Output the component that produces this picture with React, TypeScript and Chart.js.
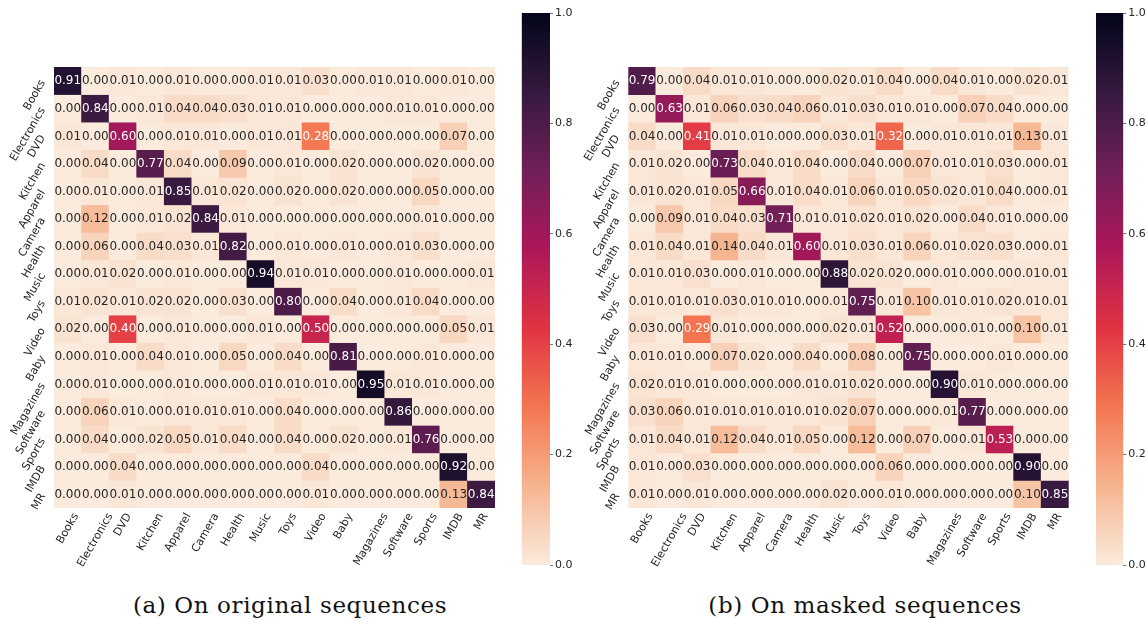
import React, { useEffect, useRef } from "react";
import { Chart, registerables } from "chart.js";

Chart.register(...registerables);

const categories = [
  "Books", "Electronics", "DVD", "Kitchen", "Apparel", "Camera", "Health", "Music",
  "Toys", "Video", "Baby", "Magazines", "Software", "Sports", "IMDB", "MR",
];

const originalValues: number[][] = [
  [0.91, 0.00, 0.01, 0.00, 0.01, 0.00, 0.00, 0.01, 0.01, 0.03, 0.00, 0.01, 0.01, 0.00, 0.01, 0.00],
  [0.00, 0.84, 0.00, 0.01, 0.04, 0.04, 0.03, 0.01, 0.01, 0.00, 0.00, 0.00, 0.01, 0.01, 0.00, 0.00],
  [0.01, 0.00, 0.60, 0.00, 0.01, 0.01, 0.00, 0.01, 0.01, 0.28, 0.00, 0.00, 0.00, 0.00, 0.07, 0.00],
  [0.00, 0.04, 0.00, 0.77, 0.04, 0.00, 0.09, 0.00, 0.01, 0.00, 0.02, 0.00, 0.00, 0.02, 0.00, 0.00],
  [0.00, 0.01, 0.00, 0.01, 0.85, 0.01, 0.02, 0.00, 0.02, 0.00, 0.02, 0.00, 0.00, 0.05, 0.00, 0.00],
  [0.00, 0.12, 0.00, 0.01, 0.02, 0.84, 0.01, 0.00, 0.00, 0.00, 0.00, 0.00, 0.00, 0.01, 0.00, 0.00],
  [0.00, 0.06, 0.00, 0.04, 0.03, 0.01, 0.82, 0.00, 0.01, 0.00, 0.01, 0.00, 0.01, 0.03, 0.00, 0.00],
  [0.00, 0.01, 0.02, 0.00, 0.01, 0.00, 0.00, 0.94, 0.01, 0.01, 0.00, 0.00, 0.01, 0.00, 0.00, 0.01],
  [0.01, 0.02, 0.01, 0.02, 0.02, 0.00, 0.03, 0.00, 0.80, 0.00, 0.04, 0.00, 0.01, 0.04, 0.00, 0.00],
  [0.02, 0.00, 0.40, 0.00, 0.01, 0.00, 0.00, 0.01, 0.00, 0.50, 0.00, 0.00, 0.00, 0.00, 0.05, 0.01],
  [0.00, 0.01, 0.00, 0.04, 0.01, 0.00, 0.05, 0.00, 0.04, 0.00, 0.81, 0.00, 0.00, 0.01, 0.00, 0.00],
  [0.00, 0.01, 0.00, 0.00, 0.01, 0.00, 0.00, 0.01, 0.01, 0.01, 0.00, 0.95, 0.01, 0.01, 0.00, 0.00],
  [0.00, 0.06, 0.01, 0.00, 0.01, 0.01, 0.01, 0.00, 0.04, 0.00, 0.00, 0.00, 0.86, 0.00, 0.00, 0.00],
  [0.00, 0.04, 0.00, 0.02, 0.05, 0.01, 0.04, 0.00, 0.04, 0.00, 0.02, 0.00, 0.01, 0.76, 0.00, 0.00],
  [0.00, 0.00, 0.04, 0.00, 0.00, 0.00, 0.00, 0.00, 0.00, 0.04, 0.00, 0.00, 0.00, 0.00, 0.92, 0.00],
  [0.00, 0.00, 0.01, 0.00, 0.00, 0.00, 0.00, 0.00, 0.00, 0.01, 0.00, 0.00, 0.00, 0.00, 0.13, 0.84],
];

const maskedValues: number[][] = [
  [0.79, 0.00, 0.04, 0.01, 0.01, 0.00, 0.00, 0.02, 0.01, 0.04, 0.00, 0.04, 0.01, 0.00, 0.02, 0.01],
  [0.00, 0.63, 0.01, 0.06, 0.03, 0.04, 0.06, 0.01, 0.03, 0.01, 0.01, 0.00, 0.07, 0.04, 0.00, 0.00],
  [0.04, 0.00, 0.41, 0.01, 0.01, 0.00, 0.00, 0.03, 0.01, 0.32, 0.00, 0.01, 0.01, 0.01, 0.13, 0.01],
  [0.01, 0.02, 0.00, 0.73, 0.04, 0.01, 0.04, 0.00, 0.04, 0.00, 0.07, 0.01, 0.01, 0.03, 0.00, 0.01],
  [0.01, 0.02, 0.01, 0.05, 0.66, 0.01, 0.04, 0.01, 0.06, 0.01, 0.05, 0.02, 0.01, 0.04, 0.00, 0.01],
  [0.00, 0.09, 0.01, 0.04, 0.03, 0.71, 0.01, 0.01, 0.02, 0.01, 0.02, 0.00, 0.04, 0.01, 0.00, 0.00],
  [0.01, 0.04, 0.01, 0.14, 0.04, 0.01, 0.60, 0.01, 0.03, 0.01, 0.06, 0.01, 0.02, 0.03, 0.00, 0.01],
  [0.01, 0.01, 0.03, 0.00, 0.01, 0.00, 0.00, 0.88, 0.02, 0.02, 0.00, 0.01, 0.00, 0.00, 0.01, 0.01],
  [0.01, 0.01, 0.01, 0.03, 0.01, 0.01, 0.00, 0.01, 0.75, 0.01, 0.10, 0.01, 0.01, 0.02, 0.01, 0.01],
  [0.03, 0.00, 0.29, 0.01, 0.00, 0.00, 0.00, 0.02, 0.01, 0.52, 0.00, 0.00, 0.01, 0.00, 0.10, 0.01],
  [0.01, 0.01, 0.00, 0.07, 0.02, 0.00, 0.04, 0.00, 0.08, 0.00, 0.75, 0.00, 0.00, 0.01, 0.00, 0.00],
  [0.02, 0.01, 0.01, 0.00, 0.00, 0.00, 0.01, 0.01, 0.02, 0.00, 0.00, 0.90, 0.01, 0.00, 0.00, 0.00],
  [0.03, 0.06, 0.01, 0.01, 0.01, 0.01, 0.01, 0.02, 0.07, 0.00, 0.00, 0.01, 0.77, 0.00, 0.00, 0.00],
  [0.01, 0.04, 0.01, 0.12, 0.04, 0.01, 0.05, 0.00, 0.12, 0.00, 0.07, 0.00, 0.01, 0.53, 0.00, 0.00],
  [0.01, 0.00, 0.03, 0.00, 0.00, 0.00, 0.00, 0.00, 0.00, 0.06, 0.00, 0.00, 0.00, 0.00, 0.90, 0.00],
  [0.01, 0.00, 0.01, 0.00, 0.00, 0.00, 0.00, 0.02, 0.00, 0.01, 0.00, 0.00, 0.00, 0.00, 0.10, 0.85],
];

const colorbarTicks = [0.0, 0.2, 0.4, 0.6, 0.8, 1.0];
const captionA = "(a) On original sequences";
const captionB = "(b) On masked sequences";

// seaborn "rocket" colormap stops (used reversed: 0 -> light, 1 -> dark)
const ROCKET: number[][] = [
  [3, 5, 26], [53, 25, 62], [112, 31, 87], [173, 23, 89],
  [225, 51, 66], [243, 118, 81], [246, 180, 143], [250, 235, 221],
];

function rocketR(v: number): number[] {
  const t = 1 - Math.max(0, Math.min(1, v));
  const p = t * (ROCKET.length - 1);
  const i = Math.min(Math.floor(p), ROCKET.length - 2);
  const f = p - i;
  const a = ROCKET[i], b = ROCKET[i + 1];
  return [0, 1, 2].map((k) => a[k] + (b[k] - a[k]) * f);
}
const rgb = (c: number[]) => `rgb(${Math.round(c[0])},${Math.round(c[1])},${Math.round(c[2])})`;
function luminance(c: number[]): number {
  const lin = c.map((x) => {
    const s = x / 255;
    return s <= 0.03928 ? s / 12.92 : Math.pow((s + 0.055) / 1.055, 2.4);
  });
  return 0.2126 * lin[0] + 0.7152 * lin[1] + 0.0722 * lin[2];
}

const FONT = "'DejaVu Sans', sans-serif";
const TEXT_DARK = "#262626";

const annotatePlugin = {
  id: "annotate",
  afterDatasetsDraw(chart: any) {
    const ctx = chart.ctx;
    const values: number[][] = chart.config.options.cellValues;
    ctx.save();
    ctx.font = `12px ${FONT}`;
    ctx.textAlign = "center";
    ctx.textBaseline = "middle";
    chart.data.datasets.forEach((_: any, r: number) => {
      const meta = chart.getDatasetMeta(r);
      meta.data.forEach((bar: any, c: number) => {
        const p = bar.getProps(["x", "y", "base"], true);
        const v = values[r][c];
        const col = rocketR(v);
        ctx.fillStyle = luminance(col) > 0.408 ? TEXT_DARK : "#ffffff";
        ctx.fillText(v.toFixed(2), p.x, (p.y + p.base) / 2 + 0.5);
      });
    });
    ctx.restore();
  },
};

const xLabelsPlugin = {
  id: "xlabels",
  afterDraw(chart: any) {
    const ctx = chart.ctx;
    const xs = chart.scales.x;
    const a = Math.PI / 3;
    const h = 11 * 1.17;
    ctx.save();
    ctx.font = `11px ${FONT}`;
    ctx.fillStyle = TEXT_DARK;
    ctx.textAlign = "center";
    ctx.textBaseline = "middle";
    categories.forEach((lab, i) => {
      const x = xs.getPixelForValue(i);
      const w = ctx.measureText(lab).width;
      const bh = w * Math.sin(a) + h * Math.cos(a);
      const cy = chart.chartArea.bottom + 3 + bh / 2;
      ctx.save();
      ctx.translate(x, cy);
      ctx.rotate(-a);
      ctx.fillText(lab, 0, 0);
      ctx.restore();
    });
    ctx.restore();
  },
};

type HeatProps = {
  values: number[][];
  left: number;
  width: number;
  axisWidth: number;
  padRight: number;
};

function Heatmap({ values, left, width, axisWidth, padRight }: HeatProps) {
  const ref = useRef<HTMLCanvasElement | null>(null);
  useEffect(() => {
    if (!ref.current) return;
    const chart = new Chart(ref.current, {
      type: "bar",
      data: {
        labels: categories,
        datasets: values.map((row, r) => ({
          label: categories[r],
          data: row.map(() => [r, r + 1]),
          backgroundColor: row.map((v) => rgb(rocketR(v))),
          borderWidth: 0,
          grouped: false,
          barPercentage: 1,
          categoryPercentage: 1,
        })) as any,
      },
      options: {
        responsive: false,
        animation: false,
        cellValues: values,
        layout: { padding: { top: 67, right: padRight, bottom: 0, left: 0 } },
        plugins: { legend: { display: false }, tooltip: { enabled: false } },
        scales: {
          x: {
            type: "category",
            grid: { display: false },
            border: { display: false },
            ticks: { display: false },
            afterFit: (s: any) => {
              s.height = 72;
            },
          },
          y: {
            type: "linear",
            min: 0,
            max: 16,
            reverse: true,
            grid: { display: false },
            border: { display: false },
            afterBuildTicks: (s: any) => {
              s.ticks = categories.map((_, i) => ({ value: i + 0.5 }));
            },
            ticks: {
              autoSkip: false,
              minRotation: 60,
              maxRotation: 60,
              padding: 3,
              color: TEXT_DARK,
              font: { family: FONT, size: 11 },
              callback: (v: any) => categories[Math.floor(Number(v))],
            },
            afterFit: (s: any) => {
              s.width = axisWidth;
            },
          },
        },
      } as any,
      plugins: [annotatePlugin, xLabelsPlugin],
    });
    return () => chart.destroy();
  }, []);
  return (
    <canvas
      ref={ref}
      width={width}
      height={580}
      style={{ position: "absolute", left, top: 0, width, height: 580 }}
    />
  );
}

type BarProps = { left: number; padLeft: number; barWidth: number };

function Colorbar({ left, padLeft, barWidth }: BarProps) {
  const ref = useRef<HTMLCanvasElement | null>(null);
  const width = 64;
  useEffect(() => {
    if (!ref.current) return;
    const chart = new Chart(ref.current, {
      type: "bar",
      data: {
        labels: [""],
        datasets: [
          {
            data: [[0, 1]] as any,
            backgroundColor: (c: any) => {
              const ch = c.chart;
              if (!ch.chartArea) return "transparent";
              const ys = ch.scales.y;
              const g = ch.ctx.createLinearGradient(0, ys.getPixelForValue(0), 0, ys.getPixelForValue(1));
              for (let k = 0; k <= 28; k++) {
                const v = k / 28;
                g.addColorStop(v, rgb(rocketR(v)));
              }
              return g;
            },
            borderWidth: 0,
            barPercentage: 1,
            categoryPercentage: 1,
          },
        ],
      },
      options: {
        responsive: false,
        animation: false,
        layout: { padding: { top: 13, bottom: 15, left: padLeft, right: 0 } },
        plugins: { legend: { display: false }, tooltip: { enabled: false } },
        scales: {
          x: { display: false },
          y: {
            position: "right",
            min: 0,
            max: 1,
            afterBuildTicks: (s: any) => {
              s.ticks = colorbarTicks.map((v) => ({ value: v }));
            },
            grid: {
              display: true,
              drawOnChartArea: false,
              drawTicks: true,
              tickLength: 3,
              color: "#555555",
              lineWidth: 0.8,
            },
            border: { display: false },
            ticks: {
              padding: 2,
              color: TEXT_DARK,
              font: { family: FONT, size: 11 },
              callback: (v: any) => Number(v).toFixed(1),
            },
            afterFit: (s: any) => {
              s.width = width - padLeft - barWidth;
            },
          },
        },
      } as any,
    });
    return () => chart.destroy();
  }, []);
  return (
    <canvas
      ref={ref}
      width={width}
      height={580}
      style={{ position: "absolute", left, top: 0, width, height: 580 }}
    />
  );
}

const captionStyle: React.CSSProperties = {
  position: "absolute",
  top: 594,
  width: 420,
  textAlign: "center",
  fontFamily: "'DejaVu Serif', serif",
  fontSize: 23,
  lineHeight: "23px",
  letterSpacing: "0.6px",
  color: "#111",
  whiteSpace: "nowrap",
};

export default function App() {
  return (
    <div
      style={{
        position: "absolute",
        left: 0,
        top: 0,
        width: 1148,
        height: 626,
        background: "#ffffff",
        overflow: "hidden",
      }}
    >
      <Heatmap values={originalValues} left={0} width={510} axisWidth={54} padRight={15} />
      <Colorbar left={510} padLeft={11.7} barWidth={28.3} />
      <Heatmap values={maskedValues} left={574} width={510} axisWidth={54.3} padRight={15.3} />
      <Colorbar left={1084} padLeft={12} barWidth={27.3} />
      <div style={{ ...captionStyle, left: 80 }}>{captionA}</div>
      <div style={{ ...captionStyle, left: 655 }}>{captionB}</div>
    </div>
  );
}
